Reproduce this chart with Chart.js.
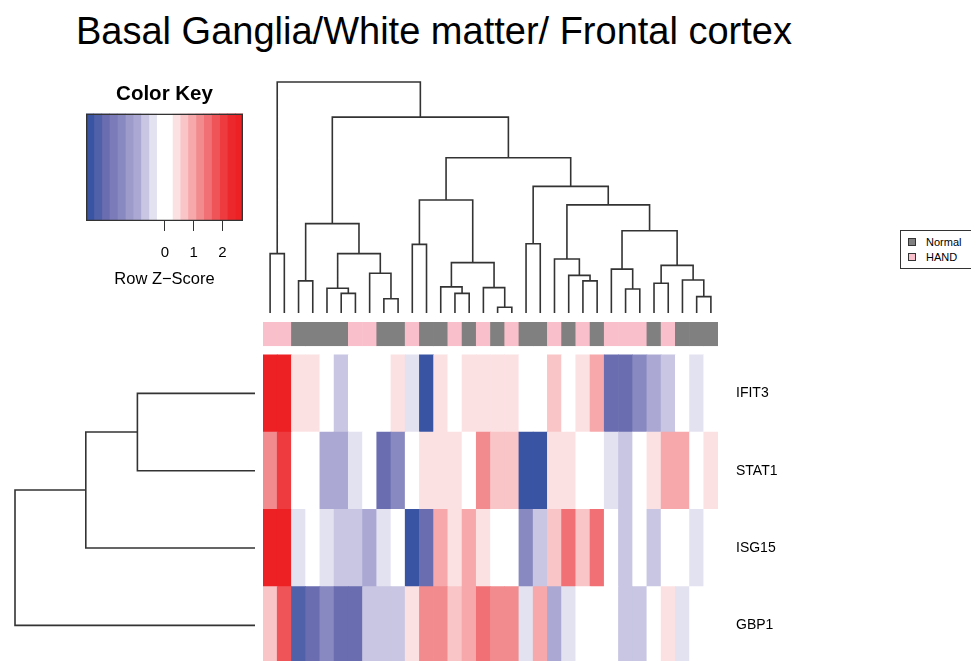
<!DOCTYPE html>
<html>
<head>
<meta charset="utf-8">
<title>Basal Ganglia/White matter/ Frontal cortex</title>
<script src="https://cdn.jsdelivr.net/npm/chart.js@4.4.1/dist/chart.umd.min.js"></script>
<style>
  html, body { margin: 0; padding: 0; background: #fff; }
  #page { position: relative; width: 971px; height: 661px; overflow: hidden; background: #fff;
          font-family: 'Liberation Sans', Arial, Helvetica, sans-serif; color: #000; }
  canvas { position: absolute; }
  #title { position: absolute; left: 76px; top: 12px; font-size: 38px; line-height: 38px; white-space: nowrap; }
  #legend { position: absolute; left: 900px; top: 230px; width: 90px; height: 37px; border: 1px solid #333; }
  #legend .item { position: absolute; left: 7px; font-size: 11px; line-height: 12px; height: 12px; white-space: nowrap; }
  #legend .sw { display: inline-block; width: 6px; height: 6px; border: 1px solid #333; margin-right: 10px; vertical-align: 0px; }
</style>
</head>
<body>
<div id="page">
  <div id="title">Basal Ganglia/White matter/ Frontal cortex</div>
  <canvas id="key" width="197" height="216" style="left:66px;top:75px"></canvas>
  <canvas id="colDendro" width="455" height="243" style="left:263px;top:70px"></canvas>
  <canvas id="rowDendro" width="255" height="342" style="left:0px;top:322px"></canvas>
  <canvas id="heat" width="535" height="342" style="left:263px;top:322px"></canvas>
  <div id="legend"></div>
</div>
<script>
// genes, top to bottom
const genes = ['IFIT3', 'STAT1', 'ISG15', 'GBP1'];

// sample groups in dendrogram (column) order
const groups = ['HAND', 'HAND', 'Normal', 'Normal', 'Normal', 'Normal', 'HAND', 'HAND',
  'Normal', 'Normal', 'HAND', 'Normal', 'Normal', 'HAND', 'Normal', 'HAND',
  'Normal', 'HAND', 'Normal', 'Normal', 'HAND', 'Normal', 'HAND', 'Normal',
  'HAND', 'HAND', 'HAND', 'Normal', 'HAND', 'Normal', 'Normal', 'Normal'];
const groupNames = ['Normal', 'HAND'];
const groupColors = { Normal: '#808080', HAND: '#F9C0CB' };

// row z-scores, one value per column
const ifit3 = [2.6, 2.55, 0.4, 0.35, 0.1, -0.7, -0.1, 0.05, -0.05, 0.4, -0.45, -2.6, 0.35, 0.1, 0.4, 0.4,
  0.4, 0.35, 0.05, -0.1, 0.7, 0.1, 0.4, 0.95, -2.1, -2.1, -1.5, -1.0, -0.7, 0.0, -0.4, 0.05];
const stat1 = [1.2, 2.05, 0.05, -0.05, -1.0, -0.95, -0.4, 0.1, -2.1, -1.5, 0.0, 0.4, 0.4, 0.35, -0.1, 1.2,
  0.7, 0.7, -2.6, -2.6, 0.4, 0.4, 0.05, -0.05, -0.4, -0.7, 0.1, 0.4, 0.95, 0.95, 0.0, 0.4];
const isg15 = [2.6, 2.6, -0.4, 0.05, -0.4, -0.7, -0.65, -1.0, -0.4, 0.1, -2.6, -2.1, 0.95, 0.4, 0.95, 0.4,
  0.0, -0.1, -1.5, -0.7, 0.7, 1.5, 0.7, 1.5, 0.05, -0.7, 0.0, -0.7, 0.1, -0.05, -0.4, 0.0];
const gbp1 = [0.7, 1.75, -2.3, -2.1, -1.5, -2.1, -2.05, -0.7, -0.7, -0.7, 0.4, 1.2, 1.2, 0.7, 0.95, 1.5,
  1.2, 1.2, -0.4, 0.95, -1.0, -0.4, 0.0, 0.05, -0.05, -0.7, -0.7, 0.1, 0.4, -0.4, 0.0, 0.0];

// colour key
const keyBreaks = [-2.75, -2.48, -2.20, -1.93, -1.66, -1.38, -1.11, -0.84, -0.56, -0.29, -0.02,
  0.26, 0.53, 0.80, 1.08, 1.35, 1.62, 1.90, 2.17, 2.45, 2.72];
const keyColors = ['#3A54A4', '#5060A9', '#6A6DB0', '#7A7BB8', '#8889C0', '#9C9BCA', '#ABA9D3', '#C8C6E2',
  '#E3E2F1', '#FFFFFF', '#FFFFFF', '#FCE1E3', '#F9C5C7', '#F6A8AB', '#F28B8E', '#F07075', '#EF5459',
  '#EE3B40', '#ED282C', '#ED2024'];
const keyTicks = [0, 1, 2];

// column dendrogram, hclust style: negative = leaf (1-based), positive = earlier merge; last = height
const colMerge = [
  [-1, -2, 2.57], [-3, -4, 1.39], [-6, -7, 0.85], [-5, 3, 1.07], [-9, -10, 0.62], [-8, 5, 1.72],
  [4, 6, 2.57], [2, 7, 3.87], [-11, -12, 2.97], [-14, -15, 0.85], [-13, 10, 1.13], [-17, -18, 0.25],
  [-16, 12, 1.10], [11, 13, 2.18], [9, 14, 4.89], [-19, -20, 3.0], [-23, -24, 1.39], [-22, 17, 1.63],
  [-21, 18, 2.34], [-26, -27, 1.04], [-25, 20, 1.90], [-28, -29, 1.29], [-31, -32, 0.71], [-30, 23, 1.43],
  [22, 24, 2.06], [21, 25, 3.56], [19, 26, 4.68], [16, 27, 5.48], [15, 28, 6.72], [8, 29, 8.48],
  [1, 30, 10.0]
];
// row dendrogram
const rowMerge = [[-1, -2, 4.9], [-3, 1, 7.05], [-4, 2, 10.0]];

Chart.defaults.font.family = "'Liberation Sans', Arial, Helvetica, sans-serif";
Chart.defaults.color = '#000';
Chart.defaults.animation = false;
Chart.defaults.responsive = false;
Chart.defaults.plugins.legend.display = false;
Chart.defaults.plugins.tooltip.enabled = false;

function zColor(z) {
  for (let i = 0; i < keyColors.length; i++) {
    if (z < keyBreaks[i + 1]) return keyColors[i];
  }
  return keyColors[keyColors.length - 1];
}

// turn a merge list into line points, null breaks between the brackets
function dendroPoints(merge, leafPos, horizontal) {
  const pos = [], hgt = [], pts = [];
  const node = id => id < 0 ? { p: leafPos(-id - 1), h: 0 } : { p: pos[id - 1], h: hgt[id - 1] };
  const add = (p, v) => pts.push(horizontal ? { x: v, y: p } : { x: p, y: v });
  merge.forEach(([a, b, h], i) => {
    const A = node(a), B = node(b);
    pos[i] = (A.p + B.p) / 2;
    hgt[i] = h;
    add(A.p, A.h); add(A.p, h); add(B.p, h); add(B.p, B.h);
    pts.push({ x: horizontal ? 0 : B.p, y: null });
  });
  return pts;
}

const lineStyle = { borderColor: '#333', borderWidth: 1.6, pointRadius: 0, tension: 0, spanGaps: false, clip: false };
const heatMax = 4.423;

// heatmap + group bar, stacked bottom to top
const rowsBottomUp = [gbp1, isg15, stat1, ifit3];
const heatSets = rowsBottomUp.map((vals, r) => ({
  label: genes[3 - r],
  data: vals.map(() => 1),
  backgroundColor: vals.map(zColor)
}));
heatSets.push({ label: 'gap', data: groups.map(() => 0.116), backgroundColor: 'rgba(0,0,0,0)' });
heatSets.push({ label: 'group', data: groups.map(() => 0.307), backgroundColor: groups.map(g => groupColors[g]) });

new Chart(document.getElementById('heat'), {
  type: 'bar',
  data: { labels: groups, datasets: heatSets },
  options: {
    datasets: { bar: { barPercentage: 1, categoryPercentage: 1, borderWidth: 0 } },
    scales: {
      x: { stacked: true, display: false },
      y: {
        stacked: true, min: 0, max: heatMax, position: 'right',
        grid: { display: false, drawTicks: false }, border: { display: false },
        afterBuildTicks: s => { s.ticks = genes.map((g, i) => ({ value: 3.5 - i })); },
        ticks: { autoSkip: false, padding: 18, font: { size: 14 }, callback: v => genes[Math.round(3.5 - v)] },
        afterFit: s => { s.width = 80; s.paddingTop = 0; s.paddingBottom = 0; }
      }
    }
  }
});

new Chart(document.getElementById('colDendro'), {
  type: 'line',
  data: { datasets: [{ ...lineStyle, data: dendroPoints(colMerge, i => i, false) }] },
  options: {
    scales: {
      x: { type: 'linear', min: -0.5, max: groups.length - 0.5, display: false },
      y: { type: 'linear', min: 0, max: 10.52, display: false }
    }
  }
});

new Chart(document.getElementById('rowDendro'), {
  type: 'line',
  data: { datasets: [{ ...lineStyle, data: dendroPoints(rowMerge, i => 3.5 - i, true) }] },
  options: {
    scales: {
      x: { type: 'linear', min: 0, max: 10.625, reverse: true, display: false },
      y: { type: 'linear', min: 0, max: heatMax, display: false }
    }
  }
});

// colour key: one floating bar per bin, plus an outline on top
const keySets = [{
  data: [[keyBreaks[0], keyBreaks[keyBreaks.length - 1]]],
  backgroundColor: 'rgba(0,0,0,0)', borderColor: '#333', borderWidth: 1, borderSkipped: false
}];
keyColors.forEach((c, i) => {
  keySets.push({ data: [[keyBreaks[i], keyBreaks[i + 1]]], backgroundColor: c, borderWidth: 0 });
});

new Chart(document.getElementById('key'), {
  type: 'bar',
  data: { labels: [''], datasets: keySets },
  options: {
    indexAxis: 'y',
    layout: { padding: { left: 20, right: 20 } },
    datasets: { bar: { barPercentage: 1, categoryPercentage: 1, grouped: false } },
    plugins: {
      title: { display: true, text: 'Color Key', color: '#000', font: { size: 20.5, weight: 'bold' }, padding: { top: 7, bottom: 7 } }
    },
    scales: {
      y: { display: false },
      x: {
        min: keyBreaks[0], max: keyBreaks[keyBreaks.length - 1],
        afterBuildTicks: s => { s.ticks = keyTicks.map(v => ({ value: v })); },
        grid: { drawOnChartArea: false, tickLength: 10, color: '#333' },
        border: { display: false },
        ticks: { autoSkip: false, maxRotation: 0, padding: 13, font: { size: 15 } },
        title: { display: true, text: 'Row Z\u2212Score', font: { size: 16.5 }, padding: { top: 0, bottom: 2 } },
        afterFit: s => { s.height = 70; s.paddingLeft = 0; s.paddingRight = 0; }
      }
    }
  }
});

// group legend
const legendEl = document.getElementById('legend');
groupNames.forEach((g, i) => {
  const item = document.createElement('div');
  item.className = 'item';
  item.style.top = (5 + i * 15) + 'px';
  item.innerHTML = '<span class="sw" style="background:' + groupColors[g] + '"></span>' + g;
  legendEl.appendChild(item);
});
</script>
</body>
</html>
